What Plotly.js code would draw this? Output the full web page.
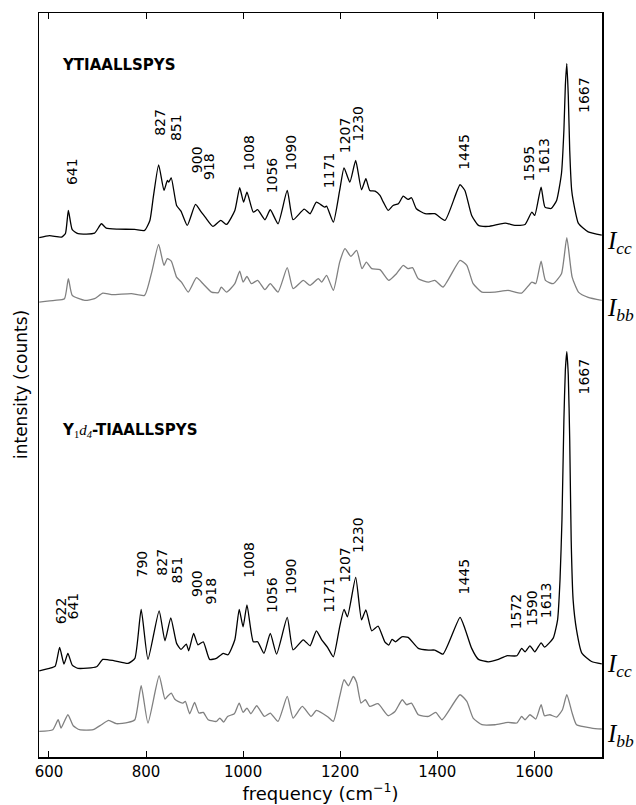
<!DOCTYPE html>
<html>
<head>
<meta charset="utf-8">
<script src="https://cdn.plot.ly/plotly-3.0.1.min.js"></script>
<style>
  html, body { margin: 0; padding: 0; background: #fff; }
  #chart { width: 636px; height: 805px; }
</style>
</head>
<body>
<div id="chart"></div>
<script>
/* ─── Spectra (frequency in cm^-1, intensity in arbitrary offset counts) ─── */
const topCcFreq = [580, 601, 626, 634, 640, 648, 660, 694, 708, 718, 742, 777, 797, 808, 815, 826, 837, 844, 847, 852, 863, 872, 885, 902, 914, 922, 938, 954, 966, 983, 993, 1001, 1008, 1021, 1030, 1045, 1056, 1072, 1091, 1103, 1126, 1138, 1151, 1168, 1172, 1186, 1199, 1208, 1220, 1232, 1244, 1253, 1261, 1272, 1282, 1289, 1299, 1309, 1320, 1330, 1340, 1347, 1357, 1375, 1395, 1416, 1447, 1457, 1471, 1485, 1505, 1540, 1560, 1581, 1595, 1601, 1614, 1622, 1635, 1646, 1656, 1661, 1664, 1667, 1670, 1673, 1677, 1680, 1691, 1711, 1739];
const topCcInt  = [519.7, 521.7, 520.3, 524, 547, 527.7, 523.7, 524.3, 533.7, 529.3, 528.3, 528, 527, 537, 560.3, 592.7, 567, 577, 575.3, 579.7, 552, 546.3, 532, 553, 545.3, 540.3, 531, 537, 533, 547, 569.7, 555.3, 565.3, 545.3, 547.7, 537.7, 547.7, 533.7, 567, 537.7, 548.3, 543.7, 555.3, 550.3, 551.3, 535.3, 567, 589.7, 575.3, 597, 567.7, 578.7, 567, 566.3, 562, 555.3, 547, 552, 553.7, 561.3, 558, 559.7, 548.7, 543.7, 543.7, 537, 572.7, 567, 542, 532, 531, 534.3, 532, 533, 545.3, 542, 570.3, 550.3, 549, 557, 584, 627.3, 672.3, 694, 662.3, 607.3, 567.3, 557.3, 534, 525.6, 522.3];

const topBbFreq = [580, 612, 632, 640, 648, 674, 694, 711, 729, 770, 797, 811, 826, 837, 844, 852, 863, 873, 887, 904, 918, 935, 949, 955, 966, 983, 993, 1000, 1008, 1017, 1030, 1045, 1056, 1072, 1091, 1103, 1124, 1138, 1155, 1162, 1172, 1186, 1199, 1210, 1222, 1234, 1245, 1254, 1265, 1282, 1300, 1316, 1330, 1340, 1349, 1361, 1382, 1395, 1412, 1447, 1461, 1474, 1492, 1519, 1546, 1574, 1595, 1603, 1614, 1623, 1639, 1656, 1667, 1678, 1691, 1711, 1739];
const topBbInt  = [455.3, 457, 458.7, 478.7, 462, 457, 458.7, 464.3, 462.7, 463.7, 462, 483.7, 513, 492, 498.7, 496.3, 480.3, 475.3, 465.3, 479.7, 473.3, 465.3, 464.7, 470.3, 465.3, 473.7, 486.3, 475.3, 481, 473.7, 477, 467.7, 473.7, 465.3, 489.7, 468.7, 477, 472, 478.7, 475.3, 482, 467, 495.3, 508.7, 501, 507, 488.7, 495.3, 488.7, 487.7, 477, 483.7, 492, 488.7, 489.7, 478.7, 475.3, 477, 470.3, 497, 492, 473.7, 465.3, 465.3, 467, 464.3, 475.3, 473.7, 496.3, 477, 473.7, 483.7, 519.7, 480.3, 465.3, 460, 457];

const botCcFreq = [580, 601, 613, 622, 631, 639, 648, 660, 698, 711, 735, 763, 777, 790, 804, 827, 839, 851, 863, 872, 883, 888, 898, 907, 918, 931, 945, 959, 969, 983, 992, 1000, 1008, 1021, 1030, 1043, 1056, 1069, 1091, 1103, 1124, 1138, 1151, 1162, 1174, 1186, 1199, 1208, 1215, 1232, 1244, 1253, 1265, 1278, 1292, 1300, 1307, 1314, 1327, 1340, 1361, 1382, 1395, 1412, 1447, 1457, 1471, 1485, 1505, 1526, 1543, 1564, 1574, 1581, 1591, 1601, 1614, 1621, 1639, 1648, 1653, 1657, 1661, 1664, 1667, 1670, 1673, 1676, 1680, 1687, 1698, 1718, 1739];
const botCcInt  = [86.3, 88.7, 91, 109.7, 93, 103.7, 92, 88.7, 90.3, 97.7, 96.3, 93.7, 98.7, 147.7, 97.7, 146.3, 116.3, 139.3, 113.7, 107.7, 113, 106.3, 123.7, 112.3, 115.3, 97.7, 98.7, 103.7, 102.3, 117.3, 147.7, 130.3, 152.3, 115.3, 115.3, 103.7, 123.7, 103, 139.7, 107.3, 117.3, 111.3, 126.3, 117.3, 109.7, 100.3, 130.3, 147.7, 140.3, 179.7, 137.3, 147.3, 126.3, 131, 115.3, 112, 117.7, 115.3, 120.3, 119.7, 108.7, 107, 107, 103, 139.7, 128.7, 108.7, 97.7, 95.3, 97.7, 101.3, 101.3, 108.7, 105.3, 111.3, 105.3, 114.3, 110, 119, 137.3, 177.3, 237.3, 337.3, 387.3, 405.6, 382.3, 317.3, 217.3, 157.3, 127.3, 104, 95.6, 93.3];

const botBbFreq = [580, 608, 619, 625, 639, 650, 663, 691, 708, 723, 739, 763, 777, 790, 804, 827, 839, 844, 852, 859, 866, 876, 881, 890, 900, 909, 918, 928, 945, 952, 960, 968, 982, 992, 1000, 1008, 1016, 1028, 1044, 1056, 1072, 1091, 1103, 1122, 1140, 1151, 1165, 1175, 1186, 1199, 1208, 1217, 1227, 1234, 1243, 1252, 1261, 1278, 1299, 1313, 1328, 1337, 1347, 1361, 1382, 1397, 1410, 1447, 1461, 1474, 1492, 1519, 1546, 1564, 1574, 1581, 1591, 1603, 1614, 1621, 1632, 1646, 1658, 1667, 1678, 1687, 1718, 1739];
const botBbInt  = [25.6, 27.3, 37.3, 29, 42.3, 31.3, 27.3, 27.3, 32.3, 36.6, 33.3, 34.6, 37.3, 71.3, 34, 81.3, 58, 60.6, 64, 58, 55.6, 54, 55.6, 43.3, 54.6, 44, 44.6, 37.3, 35.6, 39, 35, 40.6, 43.3, 54, 44.6, 49, 43.3, 51.3, 40.6, 44, 35.6, 60.6, 39, 50.6, 40.6, 46.6, 43.3, 40, 35.6, 60.6, 77.3, 71.3, 80.6, 74.6, 54, 57.3, 50.6, 53.3, 41.3, 45.6, 57.3, 52.3, 54, 42.3, 40.6, 44.6, 37.3, 62.3, 55.6, 39, 32.3, 32.3, 34.6, 34, 40.6, 37.3, 42.3, 38, 52.3, 41.3, 42.3, 40, 47.3, 62.3, 44, 32.3, 29, 28];

/* ─── Peak labels ─── */
const topPeakText = ["641", "827", "851", "900", "918", "1008", "1056", "1090", "1171", "1207", "1230", "1445", "1595", "1613", "1667"];
const topPeakX    = [649, 829, 862, 904, 931, 1012, 1060, 1098, 1177, 1210, 1237, 1455, 1589, 1621, 1702];
const topPeakY    = [570.6, 619.3, 614, 582.3, 575.6, 584.6, 562.3, 584.6, 567.3, 602.3, 614, 585.6, 574, 582.3, 642.3];

const botPeakText = ["622", "641", "790", "827", "851", "900", "918", "1008", "1056", "1090", "1171", "1207", "1230", "1445", "1572", "1590", "1613", "1667"];
const botPeakX    = [625.5, 650.5, 792, 833, 864, 904, 933, 1012, 1060, 1098, 1177, 1210, 1237, 1455, 1562, 1595, 1623, 1702];
const botPeakY    = [130.6, 135.6, 177.3, 179, 171.3, 158, 150.6, 177.3, 142.3, 160.6, 142.3, 172.3, 202.3, 160.6, 125.6, 129, 137.3, 360.6];

const traceLabels = ["I<sub>cc</sub>", "I<sub>bb</sub>", "I<sub>cc</sub>", "I<sub>bb</sub>"];
const traceLabelY = [515, 448, 92, 22];

const BLACK = "#000000";
const GRAY = "#808080";

function line(x, y, color) {
  return { type: "scatter", mode: "lines", x: x, y: y, hoverinfo: "skip", showlegend: false,
           line: { color: color, width: 1.3, shape: "spline", smoothing: 0.5 } };
}

const data = [
  line(topBbFreq, topBbInt, GRAY),
  line(topCcFreq, topCcInt, BLACK),
  line(botBbFreq, botBbInt, GRAY),
  line(botCcFreq, botCcInt, BLACK),
];

const peakAnn = (txt, xs, ys) => txt.map((t, i) => ({
  text: t, x: xs[i], y: ys[i], xref: "x", yref: "y", textangle: -90,
  xanchor: "center", yanchor: "bottom", showarrow: false,
  font: { family: "DejaVu Sans", size: 14, color: "#000" }
}));

const serif = (s) => "<span style=\"font-family:'Liberation Serif'\">" + s + "</span>";

const annotations = [
  ...peakAnn(topPeakText, topPeakX, topPeakY),
  ...peakAnn(botPeakText, botPeakX, botPeakY),
  { text: "<b>YTIAALLSPYS</b>", x: 622, y: 692.3, xref: "x", yref: "y", xanchor: "left", yanchor: "middle",
    showarrow: false, font: { family: "DejaVu Sans", size: 15, color: "#000" } },
  { text: "<b>Y</b><sub>" + serif("1") + "</sub>" + serif("<i>d</i>") + "<sub>" + serif("<i>4</i>") + "</sub><b>-TIAALLSPYS</b>",
    x: 622, y: 326.3, xref: "x", yref: "y", xanchor: "left", yanchor: "middle",
    showarrow: false, font: { family: "DejaVu Sans", size: 15, color: "#000" } },
  ...traceLabels.map((t, i) => ({
    text: "<i>" + t + "</i>", x: 1, xshift: 3, y: traceLabelY[i], xref: "paper", yref: "y",
    xanchor: "left", yanchor: "middle", showarrow: false,
    font: { family: "Liberation Serif", size: 25, color: "#000" }
  })),
  { text: "intensity (counts)", x: 0, xshift: -18, y: 0.5, xref: "paper", yref: "paper", textangle: -90,
    xanchor: "center", yanchor: "middle", showarrow: false,
    font: { family: "DejaVu Sans", size: 17, color: "#000" } },
];

const layout = {
  width: 636, height: 805,
  margin: { l: 39, r: 34, t: 13, b: 48 },
  paper_bgcolor: "#fff", plot_bgcolor: "#fff",
  font: { family: "DejaVu Sans", size: 15, color: "#000" },
  xaxis: {
    range: [579.5, 1739.5], tickvals: [600, 800, 1000, 1200, 1400, 1600],
    ticks: "inside", ticklen: 6, tickwidth: 1, tickcolor: "#000",
    showline: true, linecolor: "#000", linewidth: 1.5, mirror: "ticks",
    showgrid: false, zeroline: false,
    tickfont: { family: "DejaVu Sans", size: 15 },
    title: { text: "frequency (cm<sup>\u22121</sup>)", font: { family: "DejaVu Sans", size: 18 }, standoff: 2 }
  },
  yaxis: {
    range: [0, 744.6], showticklabels: false, ticks: "",
    showline: true, linecolor: "#000", linewidth: 1.5, mirror: true,
    showgrid: false, zeroline: false
  },
  annotations: annotations
};

Plotly.newPlot("chart", data, layout, { displayModeBar: false, staticPlot: true });
</script>
</body>
</html>
